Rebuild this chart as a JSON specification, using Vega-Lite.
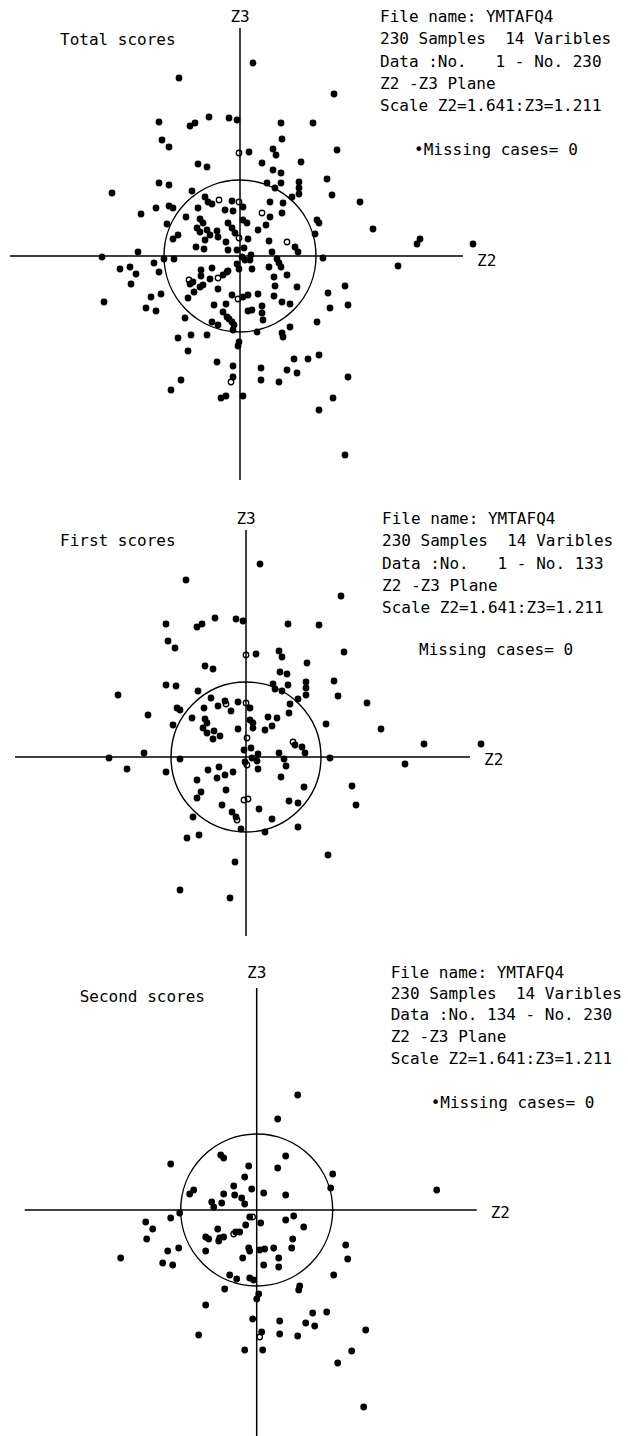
{
"$schema":"https://vega.github.io/schema/vega-lite/v6.json",
"padding":0,"spacing":0,"bounds":"flush","background":"white",
"config":{"view":{"stroke":null},"text":{"font":"DejaVu Sans Mono","fontSize":16,"color":"#000","baseline":"middle"}},
"datasets":{
"total":[
{"z2":1.3,"z3":19.3},{"z2":-6.1,"z3":17.8},{"z2":9.4,"z3":16.2},{"z2":-8.1,"z3":13.4},{"z2":-5.0,"z3":13.0},{"z2":-4.5,"z3":13.3},{"z2":-3.1,"z3":13.9},{"z2":-1.1,"z3":13.8},{"z2":-0.3,"z3":13.6},{"z2":4.1,"z3":13.3},{"z2":7.3,"z3":13.3},{"z2":-7.8,"z3":11.6},{"z2":-7.1,"z3":10.9},{"z2":4.2,"z3":11.7},{"z2":-0.1,"z3":10.3,"o":1},{"z2":0.9,"z3":10.4},{"z2":3.3,"z3":10.7},{"z2":3.6,"z3":10.1},{"z2":9.7,"z3":10.6},
{"z2":-4.2,"z3":9.2},{"z2":-3.3,"z3":8.9},{"z2":2.2,"z3":9.3},{"z2":6.1,"z3":9.4},{"z2":3.3,"z3":8.6},{"z2":4.1,"z3":8.3},{"z2":-8.1,"z3":7.3},{"z2":-7.1,"z3":7.1},{"z2":-4.8,"z3":6.5},{"z2":2.7,"z3":7.3},{"z2":4.1,"z3":7.3},{"z2":5.9,"z3":7.4},{"z2":3.5,"z3":6.8},{"z2":5.9,"z3":6.8},{"z2":5.9,"z3":6.2},{"z2":8.7,"z3":7.7},{"z2":9.2,"z3":6.1},{"z2":-12.8,"z3":6.3},{"z2":-3.5,"z3":5.9},{"z2":-3.2,"z3":5.4},{"z2":-2.1,"z3":5.6,"o":1},{"z2":-0.8,"z3":5.5},{"z2":-0.1,"z3":5.4,"o":1},{"z2":3.0,"z3":5.4},{"z2":4.3,"z3":5.3},{"z2":5.2,"z3":5.9},{"z2":12.0,"z3":5.4},
{"z2":-9.9,"z3":4.2},{"z2":-8.4,"z3":4.8},{"z2":-7.1,"z3":5.0},{"z2":-6.7,"z3":4.8},{"z2":-4.2,"z3":4.8},{"z2":-2.8,"z3":5.2},{"z2":-1.5,"z3":4.6},{"z2":-0.7,"z3":4.5},{"z2":0.3,"z3":4.9},{"z2":2.2,"z3":4.3,"o":1},{"z2":3.0,"z3":3.9},{"z2":4.2,"z3":4.3},{"z2":-5.4,"z3":3.9},{"z2":-4.0,"z3":3.7},{"z2":-3.7,"z3":3.3},{"z2":-1.2,"z3":3.3},{"z2":0.3,"z3":3.6},{"z2":0.7,"z3":3.3},{"z2":7.7,"z3":3.6},{"z2":7.9,"z3":3.3},{"z2":13.3,"z3":2.7},
{"z2":-7.3,"z3":3.2},{"z2":-4.3,"z3":2.8},{"z2":-4.0,"z3":2.4},{"z2":-3.3,"z3":2.6},{"z2":-2.3,"z3":2.5},{"z2":-3.0,"z3":2.1},{"z2":-2.2,"z3":1.9},{"z2":-3.5,"z3":1.6},{"z2":-0.8,"z3":2.8},{"z2":-0.5,"z3":2.3},{"z2":-0.1,"z3":1.8,"o":1},{"z2":0.8,"z3":1.7},{"z2":1.8,"z3":2.6},{"z2":2.6,"z3":3.1},{"z2":7.5,"z3":2.2},{"z2":-6.7,"z3":1.7},{"z2":-6.2,"z3":2.1},
{"z2":-1.4,"z3":1.4},{"z2":-1.2,"z3":0.6},{"z2":-0.3,"z3":0.6},{"z2":0.4,"z3":0.8},{"z2":2.9,"z3":1.5},{"z2":4.7,"z3":1.4,"o":1},{"z2":5.5,"z3":0.9},{"z2":5.8,"z3":0.4},{"z2":3.2,"z3":0.4},{"z2":-4.4,"z3":0.9},{"z2":-3.6,"z3":0.7},{"z2":-10.2,"z3":0.4},
{"z2":-13.8,"z3":-0.1},{"z2":-7.6,"z3":-0.3},{"z2":-6.6,"z3":-0.3},{"z2":0.2,"z3":-0.1},{"z2":1.1,"z3":0.1},{"z2":1.0,"z3":-0.4},{"z2":0.5,"z3":-0.4},{"z2":8.3,"z3":-0.2},{"z2":3.7,"z3":-0.3},{"z2":3.9,"z3":-0.7},
{"z2":-12.0,"z3":-1.3},{"z2":-11.0,"z3":-1.1},{"z2":-10.4,"z3":-1.8},{"z2":-8.6,"z3":-0.7},{"z2":-8.1,"z3":-1.6},{"z2":-3.9,"z3":-1.4},{"z2":-2.8,"z3":-1.2},{"z2":-3.9,"z3":-2.0},{"z2":-1.2,"z3":-1.5},{"z2":-0.3,"z3":-0.8},{"z2":-0.1,"z3":-1.3},{"z2":1.2,"z3":-1.3},{"z2":2.9,"z3":-1.1},{"z2":4.1,"z3":-1.1},
{"z2":-5.1,"z3":-2.4,"o":1},{"z2":-5.0,"z3":-2.8},{"z2":-4.7,"z3":-2.6},{"z2":-4.0,"z3":-3.1},{"z2":-3.7,"z3":-2.9},{"z2":-3.0,"z3":-2.3},{"z2":-2.2,"z3":-2.2,"o":1},{"z2":-1.7,"z3":-1.9},{"z2":-1.3,"z3":-1.6},{"z2":3.4,"z3":-2.1},{"z2":4.7,"z3":-1.9},
{"z2":-10.9,"z3":-2.8},{"z2":-2.2,"z3":-3.3},{"z2":3.5,"z3":-3.0},{"z2":5.7,"z3":-3.1},{"z2":10.5,"z3":-3.0},
{"z2":-13.6,"z3":-4.6},{"z2":-8.9,"z3":-4.1},{"z2":-7.9,"z3":-3.8},{"z2":-5.2,"z3":-4.2},{"z2":-4.6,"z3":-3.6},{"z2":-0.8,"z3":-3.9},{"z2":-0.2,"z3":-4.3,"o":1},{"z2":0.3,"z3":-4.1},{"z2":0.8,"z3":-3.9},{"z2":1.8,"z3":-3.8},{"z2":3.4,"z3":-4.0},{"z2":4.2,"z3":-4.6},{"z2":5.0,"z3":-4.8},{"z2":8.8,"z3":-3.7},{"z2":9.0,"z3":-5.2},{"z2":10.8,"z3":-4.9},
{"z2":-9.4,"z3":-5.2},{"z2":-8.4,"z3":-5.5},{"z2":-2.6,"z3":-4.9},{"z2":-1.4,"z3":-4.8},{"z2":-1.7,"z3":-5.6},{"z2":0.8,"z3":-5.5},{"z2":1.2,"z3":-5.4},{"z2":2.2,"z3":-5.0},{"z2":2.2,"z3":-5.7},{"z2":2.3,"z3":-6.4},{"z2":-1.3,"z3":-6.1},{"z2":-1.1,"z3":-6.3},
{"z2":-5.5,"z3":-6.2},{"z2":-2.8,"z3":-6.6},{"z2":-2.2,"z3":-6.9},{"z2":-0.8,"z3":-6.6},{"z2":-0.6,"z3":-6.9},{"z2":-0.7,"z3":-7.4},{"z2":1.7,"z3":-7.6},{"z2":4.2,"z3":-7.7},{"z2":4.3,"z3":-8.1},{"z2":5.0,"z3":-7.1},{"z2":7.7,"z3":-6.6},
{"z2":-6.2,"z3":-8.2},{"z2":-4.9,"z3":-7.9},{"z2":-3.3,"z3":-7.9},{"z2":-0.1,"z3":-8.6},{"z2":-0.2,"z3":-9.0},{"z2":-5.2,"z3":-9.5},{"z2":5.4,"z3":-10.3},{"z2":6.8,"z3":-10.3},{"z2":7.9,"z3":-9.9},
{"z2":-2.3,"z3":-10.6},{"z2":-0.7,"z3":-11.0},{"z2":2.1,"z3":-11.2},{"z2":4.7,"z3":-11.4},{"z2":5.7,"z3":-11.7},{"z2":-5.9,"z3":-12.4},{"z2":-6.9,"z3":-13.4},{"z2":-0.7,"z3":-12.1},{"z2":-0.9,"z3":-12.6,"o":1},{"z2":2.1,"z3":-12.4},{"z2":3.9,"z3":-12.6},{"z2":10.8,"z3":-12.1},{"z2":-1.9,"z3":-14.2},{"z2":-1.4,"z3":-14.0},{"z2":0.3,"z3":-14.0},{"z2":9.3,"z3":-14.2},{"z2":7.9,"z3":-15.4},{"z2":10.5,"z3":-19.9},
{"z2":18.0,"z3":1.7},{"z2":17.7,"z3":1.2},{"z2":23.3,"z3":1.2},{"z2":15.8,"z3":-1.0}
],
"first":[
{"z2":1.4,"z3":19.3},{"z2":-6.0,"z3":17.7},{"z2":9.5,"z3":16.1},{"z2":-8.0,"z3":13.3},{"z2":-4.9,"z3":13.0},{"z2":-4.4,"z3":13.3},{"z2":-3.1,"z3":13.9},{"z2":-1.0,"z3":13.8},{"z2":-0.3,"z3":13.6},{"z2":4.2,"z3":13.3},{"z2":7.3,"z3":13.2},{"z2":-7.8,"z3":11.6},{"z2":-7.1,"z3":10.9},{"z2":0.0,"z3":10.2,"o":1},{"z2":1.0,"z3":10.3},{"z2":3.3,"z3":10.6},{"z2":3.6,"z3":10.0},{"z2":9.8,"z3":10.5},{"z2":6.1,"z3":9.4},{"z2":-4.1,"z3":9.1},{"z2":-3.3,"z3":8.8},{"z2":3.4,"z3":8.5},{"z2":4.1,"z3":8.3},
{"z2":-8.0,"z3":7.2},{"z2":-7.0,"z3":7.1},{"z2":2.7,"z3":7.3},{"z2":2.9,"z3":6.8},{"z2":3.6,"z3":6.6},{"z2":4.2,"z3":7.2},{"z2":6.0,"z3":7.5},{"z2":6.0,"z3":6.9},{"z2":6.0,"z3":6.2},{"z2":8.8,"z3":7.6},{"z2":9.2,"z3":6.1},{"z2":-12.8,"z3":6.2},{"z2":-4.8,"z3":6.6},{"z2":-3.5,"z3":5.9},{"z2":-2.8,"z3":5.1},{"z2":-2.1,"z3":5.6},{"z2":-2.0,"z3":5.3,"o":1},{"z2":-0.8,"z3":5.5},{"z2":0.0,"z3":5.4,"o":1},{"z2":0.4,"z3":4.9},{"z2":-1.5,"z3":4.6},{"z2":-4.2,"z3":4.9},{"z2":-6.9,"z3":4.9},{"z2":-6.6,"z3":4.7},{"z2":5.2,"z3":5.8},{"z2":4.4,"z3":5.3},{"z2":4.3,"z3":4.4},{"z2":12.1,"z3":5.4},
{"z2":-9.8,"z3":4.2},{"z2":-5.4,"z3":3.9},{"z2":-4.1,"z3":3.8},{"z2":-3.9,"z3":3.4},{"z2":-7.3,"z3":3.2},{"z2":0.4,"z3":3.7},{"z2":0.7,"z3":3.4},{"z2":0.7,"z3":2.9},{"z2":2.2,"z3":4.0},{"z2":3.1,"z3":3.9},{"z2":2.6,"z3":3.1},{"z2":1.9,"z3":2.7},{"z2":-0.8,"z3":2.8},{"z2":8.0,"z3":3.3},{"z2":-4.3,"z3":2.9},{"z2":-3.9,"z3":2.4},{"z2":-3.2,"z3":2.6},{"z2":-2.6,"z3":2.1},{"z2":-3.3,"z3":1.8},{"z2":13.5,"z3":2.8},{"z2":0.1,"z3":1.9,"o":1},{"z2":4.7,"z3":1.5,"o":1},{"z2":17.8,"z3":1.3},
{"z2":4.9,"z3":1.2},{"z2":5.6,"z3":1.0},{"z2":5.9,"z3":0.4},{"z2":-0.2,"z3":0.7},{"z2":0.5,"z3":0.9},{"z2":1.2,"z3":0.3},{"z2":0.6,"z3":-0.1},{"z2":1.1,"z3":-0.4},{"z2":-0.1,"z3":-0.5},{"z2":0.1,"z3":-0.8,"o":1},{"z2":1.2,"z3":-1.2},{"z2":3.3,"z3":0.4},{"z2":3.8,"z3":-0.2},{"z2":4.0,"z3":-0.9},{"z2":3.5,"z3":-2.0},{"z2":5.8,"z3":-3.0},{"z2":8.4,"z3":-0.1},{"z2":15.9,"z3":-0.7},
{"z2":-10.2,"z3":0.4},{"z2":-13.7,"z3":-0.1},{"z2":-11.9,"z3":-1.2},{"z2":-8.0,"z3":-1.5},{"z2":-6.6,"z3":-0.2},{"z2":-3.8,"z3":-1.3},{"z2":-2.7,"z3":-1.0},{"z2":-2.1,"z3":-1.8},{"z2":-1.3,"z3":-1.5},{"z2":-2.9,"z3":-2.1},{"z2":-4.9,"z3":-2.3},{"z2":-4.5,"z3":-3.5},{"z2":-4.9,"z3":-4.1},{"z2":-2.0,"z3":-3.3},{"z2":-0.2,"z3":-4.3,"o":1},{"z2":0.2,"z3":-4.2,"o":1},
{"z2":-2.4,"z3":-4.8},{"z2":-1.4,"z3":-5.5},{"z2":-1.0,"z3":-6.0},{"z2":-0.9,"z3":-6.3,"o":1},{"z2":1.3,"z3":-5.2},{"z2":2.6,"z3":-6.2},{"z2":4.3,"z3":-4.4},{"z2":5.2,"z3":-4.6},{"z2":5.2,"z3":-7.0},{"z2":-0.5,"z3":-7.2},{"z2":1.9,"z3":-7.5},{"z2":-5.3,"z3":-6.0},{"z2":-5.9,"z3":-8.1},{"z2":-4.7,"z3":-7.8},{"z2":10.6,"z3":-2.9},{"z2":11.0,"z3":-4.8},{"z2":8.2,"z3":-9.8},{"z2":-1.1,"z3":-10.5},{"z2":-6.6,"z3":-13.3},{"z2":-1.6,"z3":-14.1},{"z2":23.5,"z3":1.3}
],
"second":[
{"z2":4.1,"z3":11.5},{"z2":2.1,"z3":9.1},{"z2":-3.6,"z3":5.5},{"z2":-3.3,"z3":5.2},{"z2":2.9,"z3":5.4},{"z2":-8.6,"z3":4.6},{"z2":-0.8,"z3":4.4},{"z2":2.1,"z3":4.2},{"z2":7.6,"z3":3.6},{"z2":7.4,"z3":2.2},{"z2":-1.2,"z3":3.3},{"z2":-2.3,"z3":2.4},{"z2":-0.5,"z3":2.1},{"z2":0.7,"z3":1.7},{"z2":2.9,"z3":1.5},{"z2":-6.7,"z3":1.6},{"z2":-6.3,"z3":2.0},{"z2":-3.3,"z3":1.6},{"z2":-2.2,"z3":1.5},{"z2":-1.5,"z3":1.2},{"z2":-1.2,"z3":0.6},{"z2":-4.5,"z3":0.8},{"z2":-4.3,"z3":0.3},{"z2":-3.5,"z3":0.7},{"z2":18.0,"z3":2.0},
{"z2":-7.7,"z3":-0.3},{"z2":-8.6,"z3":-0.8},{"z2":-11.1,"z3":-1.2},{"z2":-10.4,"z3":-1.9},{"z2":-11.0,"z3":-2.9},{"z2":-13.6,"z3":-4.8},{"z2":-8.9,"z3":-4.1},{"z2":-7.8,"z3":-3.8},{"z2":-9.4,"z3":-5.3},{"z2":-8.4,"z3":-5.5},{"z2":-5.1,"z3":-4.1},
{"z2":-0.7,"z3":-0.7},{"z2":-0.4,"z3":-0.7,"o":1},{"z2":0.4,"z3":-1.3},{"z2":-1.1,"z3":-1.5},{"z2":-2.1,"z3":-2.2},{"z2":-1.7,"z3":-2.2},{"z2":-2.3,"z3":-2.4,"o":1},{"z2":-3.9,"z3":-1.9},{"z2":-5.1,"z3":-2.7},{"z2":-4.8,"z3":-2.9},{"z2":-3.8,"z3":-3.1},{"z2":-3.7,"z3":-2.8},{"z2":-3.3,"z3":-2.7},
{"z2":2.9,"z3":-1.0},{"z2":3.7,"z3":-0.6},{"z2":4.7,"z3":-1.7},{"z2":3.6,"z3":-2.9},{"z2":3.5,"z3":-3.8},{"z2":1.7,"z3":-3.8},{"z2":0.8,"z3":-3.9},{"z2":0.3,"z3":-4.0},{"z2":-0.8,"z3":-3.8},{"z2":-0.7,"z3":-4.1},{"z2":-1.4,"z3":-4.8},{"z2":2.2,"z3":-4.8},{"z2":2.2,"z3":-5.7},{"z2":0.7,"z3":-5.5},
{"z2":8.9,"z3":-3.5},{"z2":9.1,"z3":-4.9},{"z2":7.7,"z3":-6.5},{"z2":-2.7,"z3":-6.5},{"z2":-2.0,"z3":-6.9},{"z2":-0.7,"z3":-6.8},{"z2":-0.3,"z3":-7.0},{"z2":-3.2,"z3":-7.9},{"z2":4.3,"z3":-7.6},{"z2":4.2,"z3":-8.0},{"z2":0.2,"z3":-8.4},{"z2":0.0,"z3":-8.9},{"z2":-5.1,"z3":-9.5},
{"z2":5.6,"z3":-10.3},{"z2":7.0,"z3":-10.2},{"z2":-0.4,"z3":-10.9},{"z2":2.3,"z3":-11.1},{"z2":4.9,"z3":-11.3},{"z2":5.8,"z3":-11.6},{"z2":10.9,"z3":-12.0},{"z2":0.5,"z3":-12.2},{"z2":0.3,"z3":-12.7,"o":1},{"z2":2.3,"z3":-12.4},{"z2":4.1,"z3":-12.6},{"z2":-5.8,"z3":-12.5},{"z2":-1.2,"z3":-14.0},{"z2":0.6,"z3":-14.0},{"z2":9.5,"z3":-14.1},{"z2":8.1,"z3":-15.3},{"z2":10.7,"z3":-19.7}
]
},
"vconcat":[
{"width":628,"height":480,
"encoding":{"x":{"field":"z2","type":"quantitative","scale":{"domain":[-24,38.8],"nice":false,"zero":false},"axis":null},"y":{"field":"z3","type":"quantitative","scale":{"domain":[-22.4,25.6],"nice":false,"zero":false},"axis":null}},
"layer":[
{"data":{"values":[{"z2":-23,"z2e":22.3,"z3":0,"z3e":0},{"z2":0,"z2e":0,"z3":22.8,"z3e":-22.4}]},"mark":{"type":"rule","color":"#000","strokeWidth":1.5},"encoding":{"x2":{"field":"z2e"},"y2":{"field":"z3e"}}},
{"data":{"values":[{"z2":0,"z3":0}]},"mark":{"type":"point","shape":"circle","filled":false,"size":23104,"color":"#000","strokeWidth":1.4,"opacity":1}},
{"data":{"name":"total"},"transform":[{"filter":"datum.o!=1"}],"mark":{"type":"point","shape":"circle","filled":true,"size":46,"color":"#000","opacity":1}},
{"data":{"name":"total"},"transform":[{"filter":"datum.o==1"}],"mark":{"type":"point","shape":"circle","filled":false,"size":30,"color":"#000","strokeWidth":1.3,"opacity":1}},
{"data":{"values":[{"z2":0,"z3":23.9,"t":"Z3"}]},"mark":{"type":"text","align":"center"},"encoding":{"text":{"field":"t"}}},
{"data":{"values":[{"z2":-18.0,"z3":21.6,"t":"Total scores"},{"z2":14.0,"z3":23.9,"t":"File name: YMTAFQ4"},{"z2":14.0,"z3":21.67,"t":"230 Samples\u00a0\u00a014 Varibles"},{"z2":14.0,"z3":19.44,"t":"Data :No.\u00a0\u00a0\u00a01 - No. 230"},{"z2":14.0,"z3":17.21,"t":"Z2 -Z3 Plane"},{"z2":14.0,"z3":14.98,"t":"Scale Z2=1.641:Z3=1.211"},{"z2":17.4,"z3":10.6,"t":"•Missing cases= 0"},{"z2":23.7,"z3":-0.5,"t":"Z2"}]},"mark":{"type":"text","align":"left"},"encoding":{"text":{"field":"t"}}}
]},
{"width":628,"height":480,
"encoding":{"x":{"field":"z2","type":"quantitative","scale":{"domain":[-24.6,38.2],"nice":false,"zero":false},"axis":null},"y":{"field":"z3","type":"quantitative","scale":{"domain":[-20.3,27.7],"nice":false,"zero":false},"axis":null}},
"layer":[
{"data":{"values":[{"z2":-23.1,"z2e":22.4,"z3":0,"z3e":0},{"z2":0,"z2e":0,"z3":22.7,"z3e":-17.9}]},"mark":{"type":"rule","color":"#000","strokeWidth":1.5},"encoding":{"x2":{"field":"z2e"},"y2":{"field":"z3e"}}},
{"data":{"values":[{"z2":0,"z3":0}]},"mark":{"type":"point","shape":"circle","filled":false,"size":22500,"color":"#000","strokeWidth":1.4,"opacity":1}},
{"data":{"name":"first"},"transform":[{"filter":"datum.o!=1"}],"mark":{"type":"point","shape":"circle","filled":true,"size":46,"color":"#000","opacity":1}},
{"data":{"name":"first"},"transform":[{"filter":"datum.o==1"}],"mark":{"type":"point","shape":"circle","filled":false,"size":30,"color":"#000","strokeWidth":1.3,"opacity":1}},
{"data":{"values":[{"z2":0,"z3":23.8,"t":"Z3"}]},"mark":{"type":"text","align":"center"},"encoding":{"text":{"field":"t"}}},
{"data":{"values":[{"z2":-18.6,"z3":21.6,"t":"First scores"},{"z2":13.6,"z3":23.8,"t":"File name: YMTAFQ4"},{"z2":13.6,"z3":21.57,"t":"230 Samples\u00a0\u00a014 Varibles"},{"z2":13.6,"z3":19.34,"t":"Data :No.\u00a0\u00a0\u00a01 - No. 133"},{"z2":13.6,"z3":17.11,"t":"Z2 -Z3 Plane"},{"z2":13.6,"z3":14.88,"t":"Scale Z2=1.641:Z3=1.211"},{"z2":17.3,"z3":10.7,"t":"Missing cases= 0"},{"z2":23.8,"z3":-0.3,"t":"Z2"}]},"mark":{"type":"text","align":"left"},"encoding":{"text":{"field":"t"}}}
]},
{"width":628,"height":476,
"encoding":{"x":{"field":"z2","type":"quantitative","scale":{"domain":[-25.67,37.13],"nice":false,"zero":false},"axis":null},"y":{"field":"z3","type":"quantitative","scale":{"domain":[-22.6,25.0],"nice":false,"zero":false},"axis":null}},
"layer":[
{"data":{"values":[{"z2":-23.2,"z2e":22.0,"z3":0,"z3e":0},{"z2":0,"z2e":0,"z3":22.2,"z3e":-22.6}]},"mark":{"type":"rule","color":"#000","strokeWidth":1.5},"encoding":{"x2":{"field":"z2e"},"y2":{"field":"z3e"}}},
{"data":{"values":[{"z2":0,"z3":0}]},"mark":{"type":"point","shape":"circle","filled":false,"size":23104,"color":"#000","strokeWidth":1.4,"opacity":1}},
{"data":{"name":"second"},"transform":[{"filter":"datum.o!=1"}],"mark":{"type":"point","shape":"circle","filled":true,"size":46,"color":"#000","opacity":1}},
{"data":{"name":"second"},"transform":[{"filter":"datum.o==1"}],"mark":{"type":"point","shape":"circle","filled":false,"size":30,"color":"#000","strokeWidth":1.3,"opacity":1}},
{"data":{"values":[{"z2":0,"z3":23.7,"t":"Z3"}]},"mark":{"type":"text","align":"center"},"encoding":{"text":{"field":"t"}}},
{"data":{"values":[{"z2":-17.7,"z3":21.3,"t":"Second scores"},{"z2":13.4,"z3":23.73,"t":"File name: YMTAFQ4"},{"z2":13.4,"z3":21.6,"t":"230 Samples\u00a0\u00a014 Varibles"},{"z2":13.4,"z3":19.47,"t":"Data :No. 134 - No. 230"},{"z2":13.4,"z3":17.3,"t":"Z2 -Z3 Plane"},{"z2":13.4,"z3":15.1,"t":"Scale Z2=1.641:Z3=1.211"},{"z2":17.4,"z3":10.7,"t":"•Missing cases= 0"},{"z2":23.4,"z3":-0.3,"t":"Z2"}]},"mark":{"type":"text","align":"left"},"encoding":{"text":{"field":"t"}}}
]}
]
}
